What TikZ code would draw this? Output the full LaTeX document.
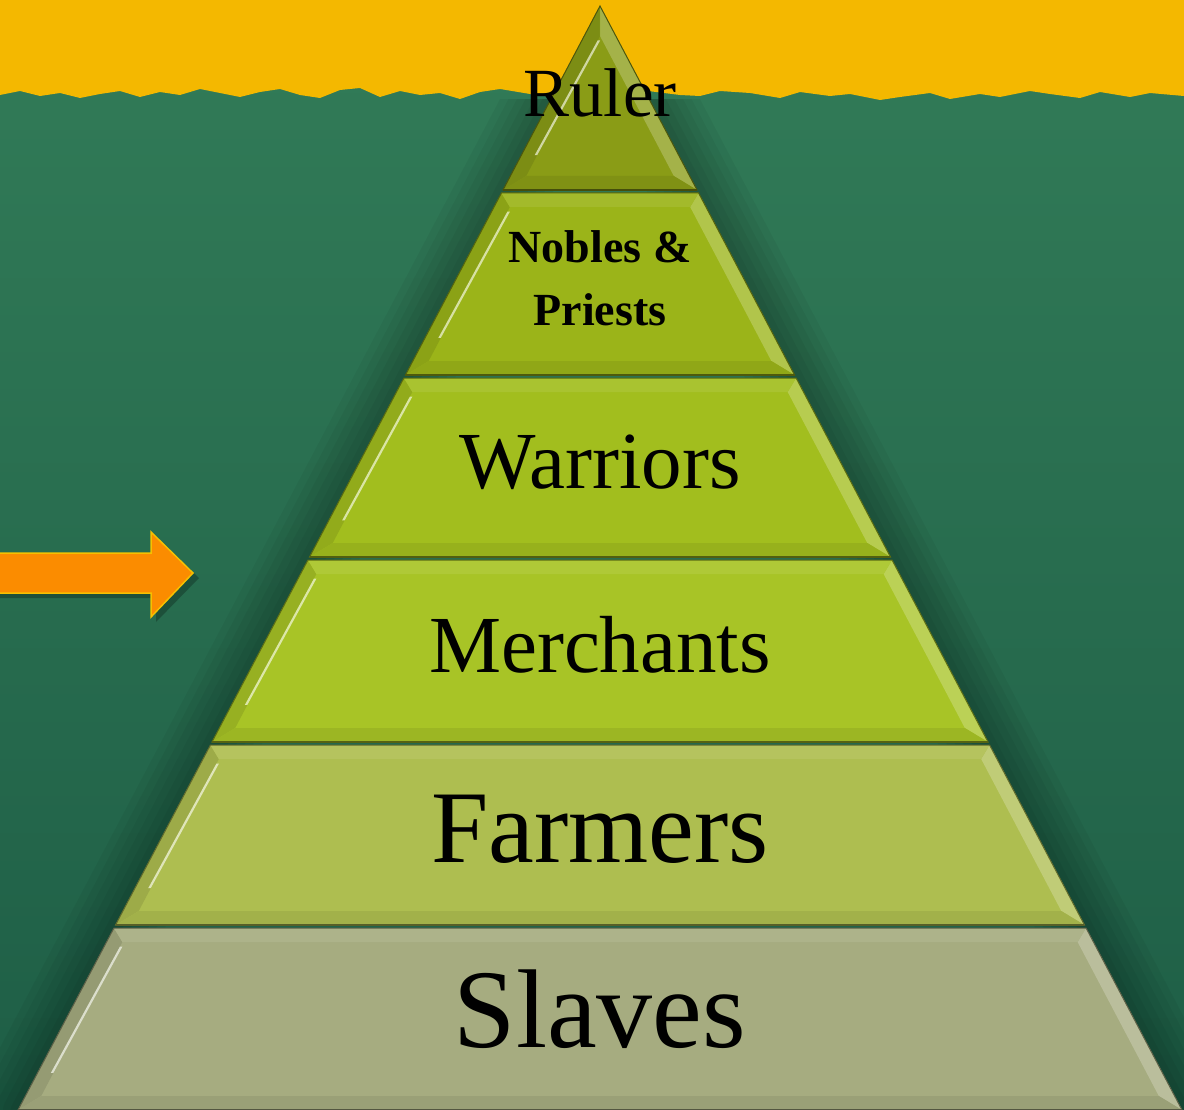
\documentclass[tikz,border=0pt]{standalone}
\usepackage{fontspec}
\setmainfont{Liberation Serif}
\usetikzlibrary{calc}
\definecolor{bgTop}{RGB}{50,124,88}
\definecolor{bgBot}{RGB}{30,94,70}
\definecolor{yel}{RGB}{244,184,0}
\definecolor{arrowfill}{RGB}{251,140,0}
\definecolor{arrowedge}{RGB}{246,192,0}
\definecolor{cRul}{RGB}{138,156,22}
\definecolor{cNob}{RGB}{155,180,25}
\definecolor{cWar}{RGB}{162,190,30}
\definecolor{cMer}{RGB}{168,196,38}
\definecolor{cFar}{RGB}{174,190,80}
\definecolor{cSla}{RGB}{166,172,128}
\tikzset{
  layertext/.style={anchor=base, text=black, inner sep=0pt},
}
\begin{document}
\begin{tikzpicture}[x=1pt,y=-1pt]
\useasboundingbox (0,0) rectangle (1184,1110);
% background
\shade[top color=bgTop, bottom color=bgBot] (0,0) rectangle (1184,1110);
% soft shadow around pyramid (below the yellow band only)
\begin{scope}
  \clip (0,100) rectangle (1184,1110);
  \foreach \w in {90,75,60,45,30,15}
    \draw[black, opacity=0.045, line width=\w, line join=round] (600,6) -- (1182,1110) -- (18,1110) -- cycle;
\end{scope}
% yellow band with rough lower edge
\fill[yel] (0,0) -- (1184,0) -- (1184,96) -- (1150,93) -- (1130,97) -- (1100,92) -- (1080,98) -- (1050,94)
  -- (1030,91) -- (1000,97) -- (980,94) -- (950,99) -- (930,93) -- (900,97) -- (880,100) -- (850,94)
  -- (830,96) -- (800,92) -- (780,98) -- (750,93) -- (720,91) -- (700,96) -- (680,95) -- (640,90)
  -- (600,92) -- (560,97) -- (530,94) -- (500,89) -- (480,92) -- (460,99) -- (440,93) -- (420,95)
  -- (400,91) -- (380,97) -- (360,88) -- (340,90) -- (320,98) -- (300,95) -- (280,89) -- (260,92)
  -- (240,97) -- (220,93) -- (200,89) -- (180,95) -- (160,92) -- (140,97) -- (120,91) -- (100,94)
  -- (80,98) -- (60,93) -- (40,96) -- (20,91) -- (0,95) -- cycle;
% pyramid layers
\foreach \ya/\yb/\col in {6/190/cRul, 193/375/cNob, 378/557/cWar, 560/742/cMer, 745/925/cFar, 928/1110/cSla}{
  \pgfmathsetmacro\xla{600-0.52717*(\ya-6)}
  \pgfmathsetmacro\xra{1200-\xla}
  \pgfmathsetmacro\xlb{600-0.52717*(\yb-6)}
  \pgfmathsetmacro\xrb{1200-\xlb}
  \pgfmathsetmacro\yt{max(\ya+14,36.1)}
  \pgfmathsetmacro\ybb{\yb-14}
  \pgfmathsetmacro\ila{min(600-0.52717*(\yt-6)+15.8,600)}
  \pgfmathsetmacro\ira{1200-\ila}
  \pgfmathsetmacro\ilb{600-0.52717*(\ybb-6)+15.8}
  \pgfmathsetmacro\irb{1200-\ilb}
  \fill[\col] (\xla,\ya) -- (\xra,\ya) -- (\xrb,\yb) -- (\xlb,\yb) -- cycle;
  \fill[\col!90!black] (\xla,\ya) -- (\ila,\yt) -- (\ilb,\ybb) -- (\xlb,\yb) -- cycle;
  \fill[\col!78!white] (\xra,\ya) -- (\xrb,\yb) -- (\irb,\ybb) -- (\ira,\yt) -- cycle;
  \fill[\col!92!white] (\xla,\ya) -- (\xra,\ya) -- (\ira,\yt) -- (\ila,\yt) -- cycle;
  \fill[\col!93!black] (\xlb,\yb) -- (\xrb,\yb) -- (\irb,\ybb) -- (\ilb,\ybb) -- cycle;
  \fill[\col!40!white] ($(\ila,\yt)!0.03!(\ilb,\ybb)$) -- ++(2.5,0) -- ($(\ila,\yt)!0.85!(\ilb,\ybb)$) -- ++(-2.5,0) -- cycle;
  \draw[\col!55!black, line width=1] (\xla,\ya) -- (\xra,\ya) -- (\xrb,\yb) -- (\xlb,\yb) -- cycle;
  \draw[\col!50!black, line width=1.8] (\xlb,\yb) -- (\xrb,\yb);
}
% orange arrow
\fill[black, opacity=0.25] (0,558) -- (156,558) -- (156,537) -- (199,578) -- (156,622) -- (156,598) -- (0,598) -- cycle;
\draw[fill=arrowfill, draw=arrowedge, line width=1.5, line join=miter]
  (-2,553) -- (151,553) -- (151,532) -- (193,573) -- (151,617) -- (151,593) -- (-2,593) -- cycle;
% labels
\node[layertext, font=\fontsize{69}{69}\selectfont] (ruler) at (600,117) {Ruler};
\node[layertext, font=\bfseries\fontsize{46}{46}\selectfont] (nobles) at (600,263) {Nobles \&};
\node[layertext, font=\bfseries\fontsize{46}{46}\selectfont] (priests) at (600,326) {Priests};
\node[layertext, font=\fontsize{81}{81}\selectfont] (warriors) at (600,488) {Warriors};
\node[layertext, font=\fontsize{81}{81}\selectfont] (merchants) at (600,672) {Merchants};
\node[layertext, font=\fontsize{103}{103}\selectfont] (farmers) at (600,862) {Farmers};
\node[layertext, font=\fontsize{112}{112}\selectfont] (slaves) at (600,1047) {Slaves};
\end{tikzpicture}
\end{document}
